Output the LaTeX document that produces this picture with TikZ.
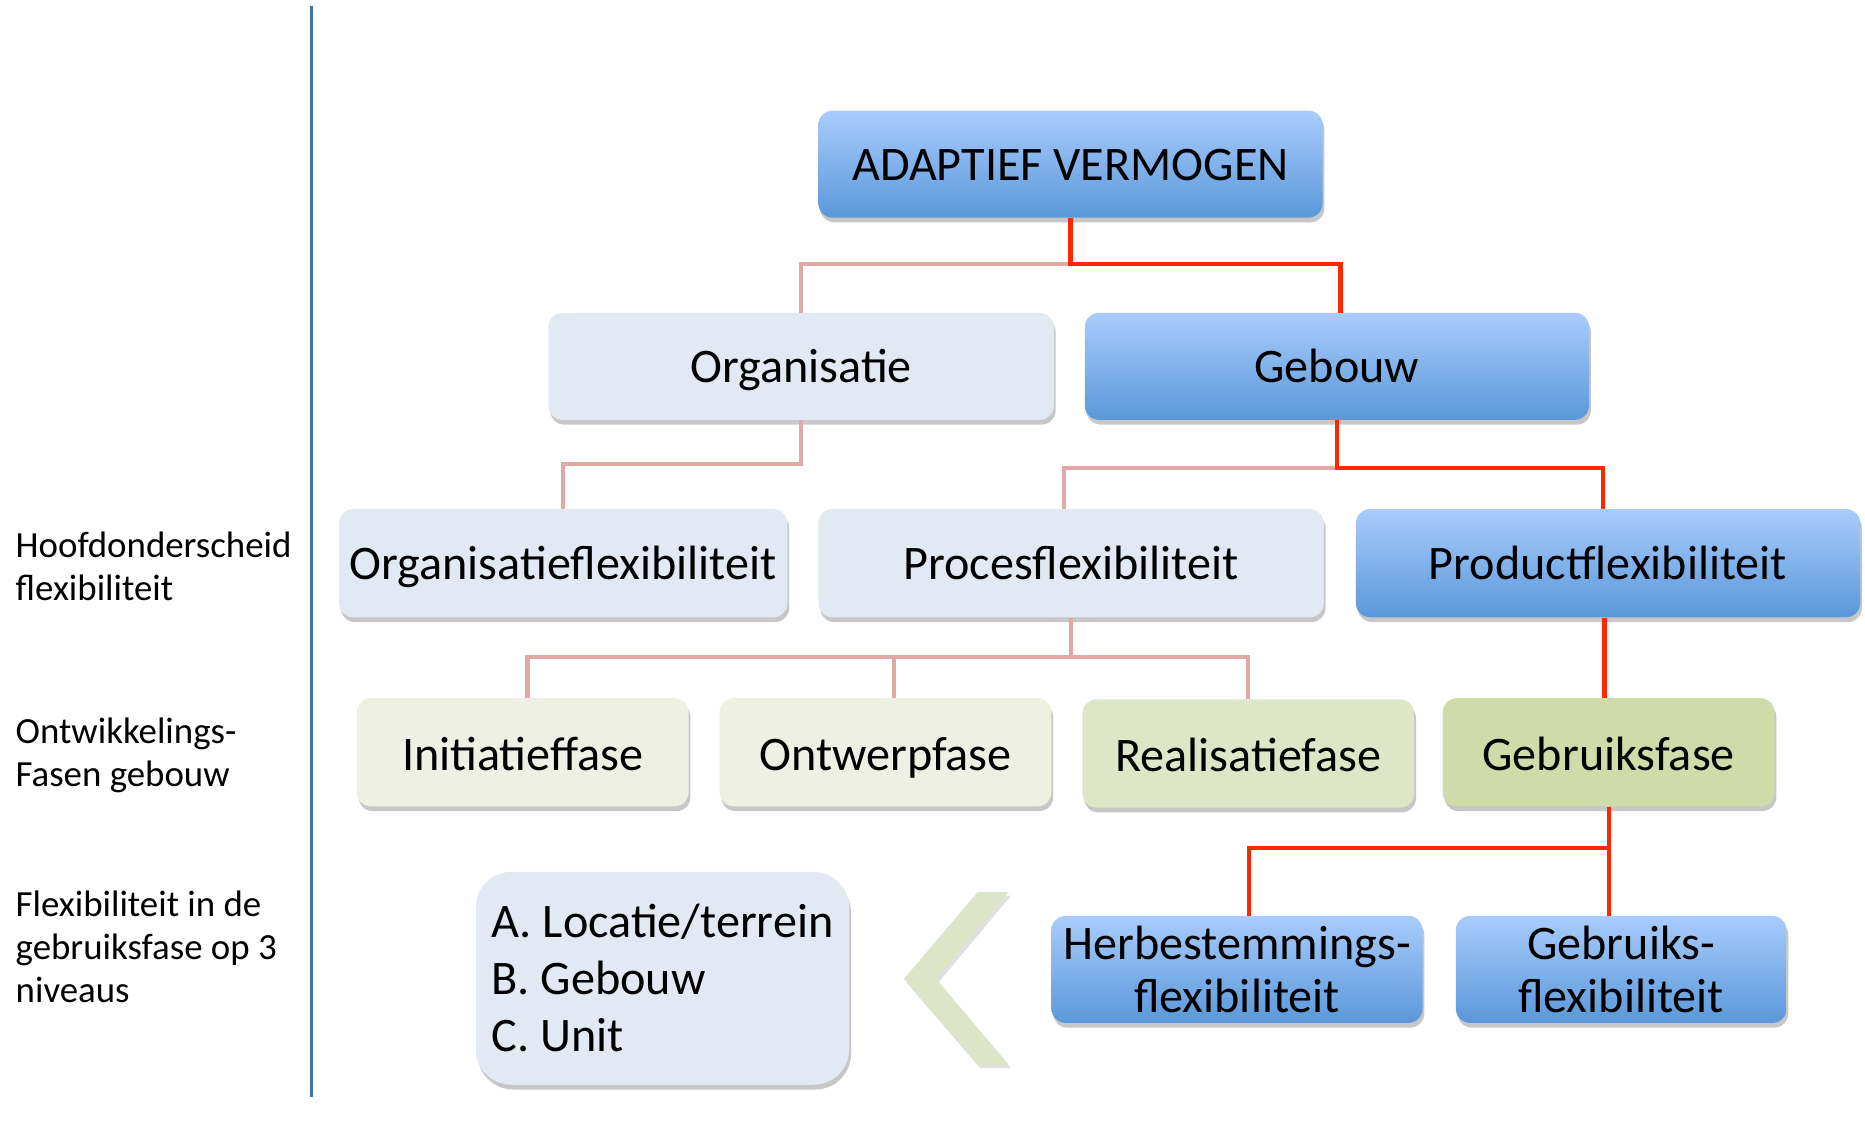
\documentclass[tikz,border=0pt]{standalone}
\usepackage{fontspec}
\setmainfont{Carlito}
\usetikzlibrary{shadows}
\definecolor{blueTop}{HTML}{A9CCFC}
\definecolor{blueMid}{HTML}{A3C6F6}
\definecolor{blueBot}{HTML}{5A98DA}
\definecolor{orgFill}{HTML}{E2E9F3}
\definecolor{initFill}{HTML}{EEF0E3}
\definecolor{realFill}{HTML}{DEE6C8}
\definecolor{gebrFill}{HTML}{CFDCAA}
\definecolor{redLine}{HTML}{FF2600}
\definecolor{pinkLine}{HTML}{E2A7A7}
\definecolor{divider}{HTML}{3E7799}
\definecolor{chevFill}{HTML}{DDE5C8}
\tikzset{
  boxbase/.style={rectangle, rounded corners=12pt, inner sep=0pt, align=center,
    font=\fontsize{40.5}{45}\selectfont,
    drop shadow={shadow xshift=1.5pt, shadow yshift=-4pt, fill=black, opacity=0.22}},
  oneline/.style={text height=30pt, text depth=2pt},
  lowline/.style={text height=30pt, text depth=-3pt},
  bluebox/.style={boxbase, top color=blueTop, middle color=blueMid, bottom color=blueBot},
  greybox/.style={boxbase, fill=orgFill},
  initbox/.style={boxbase, fill=initFill},
  realbox/.style={boxbase, fill=realFill},
  gebrbox/.style={boxbase, fill=gebrFill},
  redconn/.style={draw=redLine, line width=3.6pt},
  pinkconn/.style={draw=pinkLine, line width=3.6pt},
  sidelabel/.style={anchor=west, align=left, inner sep=0pt, font=\fontsize{31}{36}\selectfont}
}
\begin{document}
\begin{tikzpicture}[x=1pt,y=-1pt]
\useasboundingbox (0,0) rectangle (1568,944);
\fill[white] (0,0) rectangle (1568,944);

% divider
\draw[divider, line width=2pt] (262,5) -- (262,922);

% side labels
\node[sidelabel] (lab1) at (13,476) {Hoofdonderscheid\\flexibiliteit};
\node[sidelabel] (lab2) at (13,635) {Ontwikkelings-\\Fasen gebouw};
\node[sidelabel] (lab3) at (13,796) {Flexibiliteit in de\\gebruiksfase op 3\\niveaus};

% boxes
\node[bluebox, oneline, minimum width=424pt, minimum height=90pt] (adapt) at (900,138) {ADAPTIEF VERMOGEN};
\node[greybox, oneline, minimum width=425pt, minimum height=90pt] (org) at (673.5,308) {Organisatie};
\node[bluebox, oneline, minimum width=424pt, minimum height=90pt] (geb) at (1124,308) {Gebouw};
\node[greybox, oneline, minimum width=377pt, minimum height=91pt] (orgflex) at (473.5,473.5) {Organisatieflexibiliteit};
\node[greybox, oneline, minimum width=425pt, minimum height=91pt] (procflex) at (900.5,473.5) {Procesflexibiliteit};
\node[bluebox, oneline, minimum width=424pt, minimum height=91pt] (prodflex) at (1352,473.5) {Productflexibiliteit};
\node[initbox, lowline, minimum width=279pt, minimum height=91pt] (init) at (439.5,632.5) {Initiatieffase};
\node[initbox, lowline, minimum width=279pt, minimum height=91pt] (ontw) at (744.5,632.5) {Ontwerpfase};
\node[realbox, lowline, minimum width=279pt, minimum height=91pt] (real) at (1049.5,633.5) {Realisatiefase};
\node[gebrbox, lowline, minimum width=279pt, minimum height=91pt] (gebr) at (1352.5,632.5) {Gebruiksfase};
\node[bluebox, minimum width=312pt, minimum height=90pt] (herb) at (1040,815) {Herbestemmings-\\flexibiliteit};
\node[bluebox, minimum width=278pt, minimum height=90pt] (gebrflex) at (1363,815) {Gebruiks-\\flexibiliteit};
\node[greybox, rounded corners=30pt, minimum width=314pt, minimum height=179pt,
      font=\fontsize{40.5}{48}\selectfont, align=left] (list) at (557,822.5)
      {A. Locatie/terrein\\B. Gebouw\\C. Unit};

% chevron
\fill[black, opacity=0.12] (824,753) -- (850,753) -- (789,826) -- (850,898) -- (824,898) -- (762,826) -- cycle;
\fill[chevFill] (822,750) -- (848,750) -- (787,823) -- (848,895) -- (822,895) -- (760,823) -- cycle;

% connectors (pink first, red over)
\draw[pinkconn] (adapt.south) -- ++(0,39) -| (org.north);
\draw[pinkconn] (org.south) -- ++(0,37) -| (orgflex.north);
\draw[pinkconn] (geb.south) -- ++(0,40) -| ([xshift=-6pt]procflex.north);
\draw[pinkconn] (procflex.south) -- ++(0,33) -| ([xshift=4pt]init.north);
\draw[pinkconn] (procflex.south) ++(0,33) -| ([xshift=7pt]ontw.north);
\draw[pinkconn] (procflex.south) ++(0,33) -| (real.north);

\draw[redconn] (adapt.south) -- ++(0,39) -| ([xshift=3pt]geb.north);
\draw[redconn] (geb.south) -- ++(0,40) -| ([xshift=-4pt]prodflex.north);
\draw[redconn] ([xshift=-3pt]prodflex.south) -- ([xshift=-3pt]prodflex.south |- gebr.north);
\draw[redconn] (gebr.south) -- ++(0,35) -| ([xshift=10pt]herb.north);
\draw[redconn] (gebr.south) -- (gebr.south |- gebrflex.north);
\end{tikzpicture}
\end{document}
